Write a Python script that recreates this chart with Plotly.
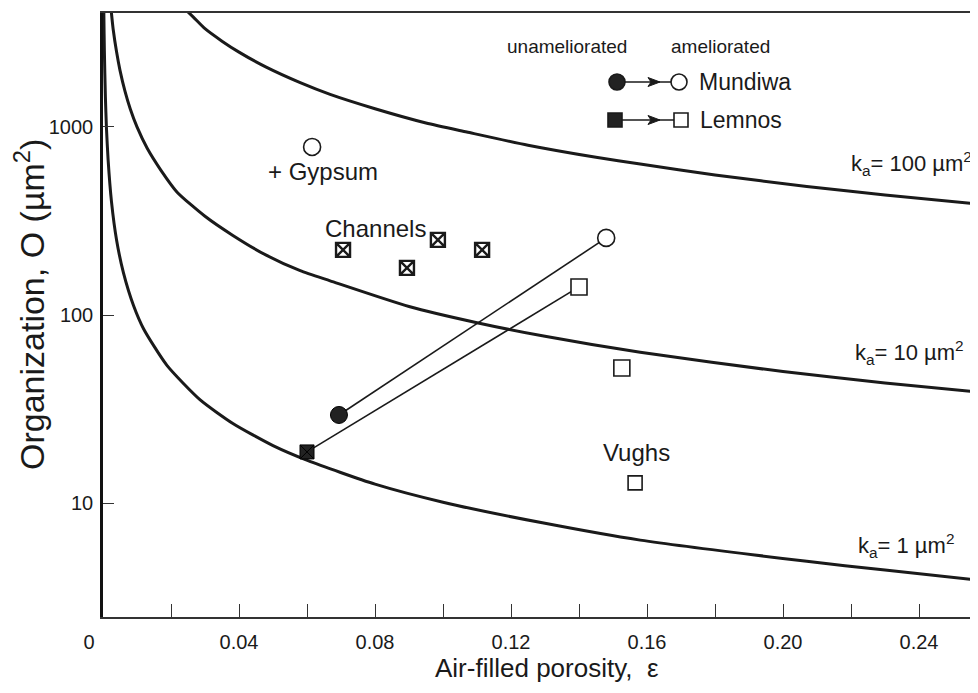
import plotly.graph_objects as go

# ---------------- data ----------------
eps_k1 = [0.0002, 0.00026, 0.0004, 0.0007, 0.001, 0.0015, 0.0025, 0.004, 0.006, 0.009,
          0.012, 0.0188, 0.0285, 0.0382, 0.05, 0.0603, 0.08, 0.10, 0.13, 0.158, 0.207, 0.23, 0.26]
org_k1 = [5000, 3900, 2550, 1450, 1000, 670, 400, 250, 168, 112,
          84, 54, 35.5, 26.5, 20.2, 16.8, 12.6, 10.1, 7.8, 6.35, 4.9, 4.4, 3.85]

eps_k10 = [0.002, 0.0025, 0.003, 0.004, 0.005, 0.0065, 0.008, 0.01, 0.013, 0.017, 0.0218,
           0.03, 0.0382, 0.048, 0.058, 0.0668, 0.09, 0.11, 0.13, 0.158, 0.2, 0.23, 0.26]
org_k10 = [5000, 4000, 3300, 2500, 2000, 1540, 1250, 1000, 770, 590, 450,
           335, 265, 208, 172, 152, 111, 91, 77, 63.3, 50, 43.5, 38.5]

eps_k100 = [0.02, 0.0265, 0.03, 0.035, 0.04, 0.048, 0.058, 0.0668, 0.08, 0.095, 0.107,
            0.125, 0.145, 0.158, 0.18, 0.207, 0.23, 0.26]
org_k100 = [5000, 3850, 3330, 2860, 2500, 2080, 1720, 1490, 1250, 1050, 940,
            800, 690, 635, 555, 483, 435, 385]

mundiwa_eps = [0.0694, 0.148]     # unameliorated -> ameliorated
mundiwa_org = [29.4, 257]
lemnos_eps = [0.060, 0.140]
lemnos_org = [18.7, 141]

gypsum_eps = [0.0615]
gypsum_org = [783]
channels_eps = [0.0706, 0.0894, 0.0985, 0.1115]
channels_org = [222, 178, 251, 222]
other_eps = [0.1526]
other_org = [52.3]
vughs_eps = [0.1565]
vughs_org = [12.8]

curve_labels = ["k<sub>a</sub>= 100 \u00b5m<sup>2</sup>",
                "k<sub>a</sub>= 10 \u00b5m<sup>2</sup>",
                "k<sub>a</sub>= 1 \u00b5m<sup>2</sup>"]

x_tickvals = [0, 0.04, 0.08, 0.12, 0.16, 0.20, 0.24]
x_ticktext = ["0" + "\u00a0" * 5, "0.04", "0.08", "0.12", "0.16", "0.20", "0.24"]
y_tickvals = [10, 100, 1000]
y_ticktext = ["10", "100", "1000"]

# ---------------- geometry ----------------
OFF = 8                      # default page body margin of the html page
W, H = 978 - OFF, 693 - OFF
ML, MR, MT, MB = 103 - OFF, 3, 13 - OFF, 76
PW, PH = W - ML - MR, H - MT - MB
X_PER_UNIT = 3400.0
x_max = PW / X_PER_UNIT
y_lo, y_hi = 0.394, 3.606

def px(xp):  # page pixel -> paper
    return (xp - OFF - ML) / PW

def py(yp):
    return (H - MB - (yp - OFF)) / PH

FONT = "Liberation Sans, Arial, Helvetica, sans-serif"
INK = "#1a1a1a"

fig = go.Figure()

for ex, oy in [(eps_k1, org_k1), (eps_k10, org_k10), (eps_k100, org_k100)]:
    fig.add_trace(go.Scatter(x=ex, y=oy, mode="lines",
                             line=dict(color=INK, width=3, shape="spline", smoothing=0.6),
                             hoverinfo="skip", showlegend=False))

for ex, oy in [(mundiwa_eps, mundiwa_org), (lemnos_eps, lemnos_org)]:
    fig.add_trace(go.Scatter(x=ex, y=oy, mode="lines",
                             line=dict(color=INK, width=1.6),
                             hoverinfo="skip", showlegend=False))

# unameliorated
fig.add_trace(go.Scatter(x=mundiwa_eps[:1], y=mundiwa_org[:1], mode="markers",
                         marker=dict(symbol="circle", size=17, color="#222",
                                     line=dict(color="#000", width=1)), showlegend=False))
fig.add_trace(go.Scatter(x=lemnos_eps[:1], y=lemnos_org[:1], mode="markers",
                         marker=dict(symbol="square-x", size=14, color="#222",
                                     line=dict(color="#000", width=1)), showlegend=False))
# ameliorated
fig.add_trace(go.Scatter(x=mundiwa_eps[1:] + gypsum_eps, y=mundiwa_org[1:] + gypsum_org, mode="markers",
                         marker=dict(symbol="circle", size=17, color="white",
                                     line=dict(color=INK, width=1.6)), showlegend=False))
fig.add_trace(go.Scatter(x=lemnos_eps[1:] + other_eps, y=lemnos_org[1:] + other_org, mode="markers",
                         marker=dict(symbol="square", size=16, color="white",
                                     line=dict(color=INK, width=1.6)), showlegend=False))
fig.add_trace(go.Scatter(x=vughs_eps, y=vughs_org, mode="markers",
                         marker=dict(symbol="square", size=14, color="white",
                                     line=dict(color=INK, width=1.6)), showlegend=False))
fig.add_trace(go.Scatter(x=channels_eps, y=channels_org, mode="markers",
                         marker=dict(symbol="square-x", size=14, color="white",
                                     line=dict(color=INK, width=2.4)), showlegend=False))

annotations = []

def text(t, xp, yp, size, xanchor="center", yanchor="middle"):
    annotations.append(dict(text=t, x=px(xp), y=py(yp), xref="paper", yref="paper",
                            xanchor=xanchor, yanchor=yanchor, showarrow=False,
                            font=dict(family=FONT, size=size, color=INK)))

# point labels
text("+ Gypsum", 323, 172, 24)
text("Channels", 375, 228, 24)
text("Vughs", 636, 453, 24)
# curve labels
text(curve_labels[0], 974, 163, 22, xanchor="right")
text(curve_labels[1], 966, 352, 22, xanchor="right")
text(curve_labels[2], 956, 545, 22, xanchor="right")
# axis titles
text("Air-filled porosity,  \u03b5", 547, 668, 26)
annotations.append(dict(text="Organization, O (\u00b5m<sup>2</sup>)", x=px(29), y=py(305),
                        xref="paper", yref="paper", showarrow=False, textangle=-90,
                        xanchor="center", yanchor="middle",
                        font=dict(family=FONT, size=34, color=INK)))
# legend header and names
text("unameliorated", 567, 47, 19)
text("ameliorated", 720, 47, 19)
text("Mundiwa", 697, 82, 23, xanchor="left")
text("Lemnos", 698, 120, 23, xanchor="left")

shapes = []
for row_y in (82, 120):
    shapes.append(dict(type="line", xref="paper", yref="paper",
                       x0=px(617), x1=px(680), y0=py(row_y), y1=py(row_y),
                       line=dict(color=INK, width=1.6)))
    shapes.append(dict(type="path", xref="paper", yref="paper",
                       xsizemode="pixel", ysizemode="pixel",
                       xanchor=px(655), yanchor=py(row_y),
                       path="M -7,-4.5 L 5,0 L -7,4.5 L -4,0 Z",
                       fillcolor=INK, line=dict(color=INK, width=1)))

def marker_shape(kind, xp, yp, r, fill):
    shapes.append(dict(type=kind, xref="paper", yref="paper",
                       xsizemode="pixel", ysizemode="pixel",
                       xanchor=px(xp), yanchor=py(yp), x0=-r, x1=r, y0=-r, y1=r,
                       fillcolor=fill, line=dict(color=INK, width=1.6)))

marker_shape("circle", 617, 82, 8, "#222")
marker_shape("circle", 679, 82, 8, "white")
marker_shape("rect", 615, 120, 7, "#222")
marker_shape("rect", 681, 120, 7, "white")

# faint right border
shapes.append(dict(type="line", xref="paper", yref="paper", x0=1, x1=1, y0=0, y1=1,
                   line=dict(color="#bbbbbb", width=1)))

fig.update_layout(
    width=W, height=H,
    margin=dict(l=ML, r=MR, t=MT, b=MB, pad=0),
    paper_bgcolor="white", plot_bgcolor="white",
    font=dict(family=FONT, color=INK),
    annotations=annotations, shapes=shapes,
    xaxis=dict(range=[0, x_max], tickvals=x_tickvals, ticktext=x_ticktext,
               ticks="inside", ticklen=13, tickwidth=1.2, tickcolor="#333",
               minor=dict(dtick=0.02, tick0=0, ticks="inside", ticklen=13,
                          tickwidth=1.2, tickcolor="#333", showgrid=False),
               showline=True, linecolor="#333", linewidth=2, mirror=True,
               showgrid=False, zeroline=False, ticklabelstandoff=6,
               tickfont=dict(family=FONT, size=20, color=INK)),
    yaxis=dict(type="log", range=[y_lo, y_hi], tickvals=y_tickvals, ticktext=y_ticktext,
               ticks="inside", ticklen=11, tickwidth=1.2, tickcolor="#333",
               showline=True, linecolor="#111", linewidth=2.5,
               showgrid=False, zeroline=False, ticklabelstandoff=3,
               tickfont=dict(family=FONT, size=20, color=INK)),
    showlegend=False,
)

fig.write_html("out.html")
